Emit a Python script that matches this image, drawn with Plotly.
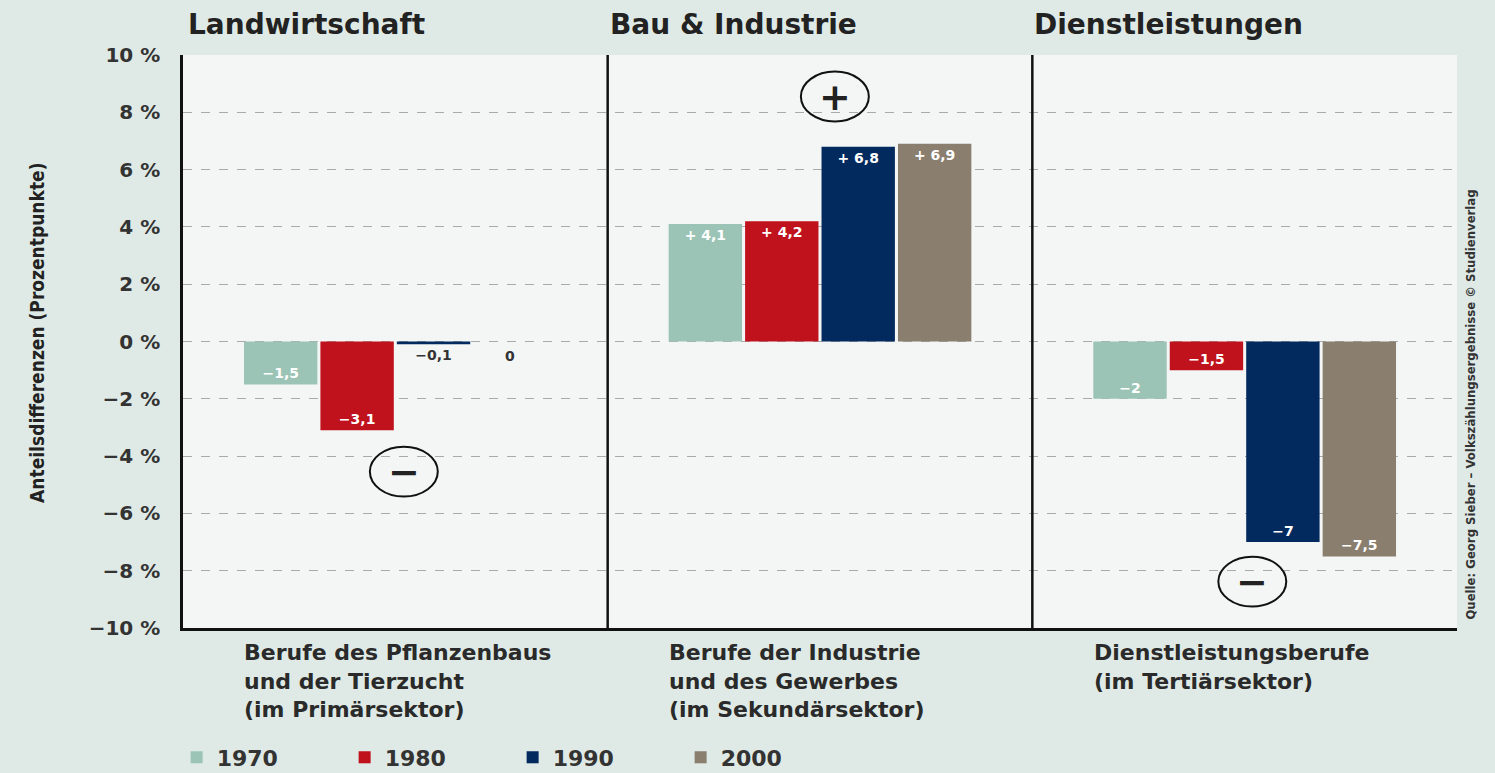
import plotly.graph_objects as go

# ---- data ----
sectors = ["Landwirtschaft", "Bau & Industrie", "Dienstleistungen"]
category_labels = [
    "Berufe des Pflanzenbaus<br>und der Tierzucht<br>(im Primärsektor)",
    "Berufe der Industrie<br>und des Gewerbes<br>(im Sekundärsektor)",
    "Dienstleistungsberufe<br>(im Tertiärsektor)",
]
years = ["1970", "1980", "1990", "2000"]
values_1970 = [-1.5, 4.1, -2.0]
values_1980 = [-3.1, 4.2, -1.0]
values_1990 = [-0.1, 6.8, -7.0]
values_2000 = [0.0, 6.9, -7.5]
labels_1970 = ["−1,5", "+ 4,1", "−2"]
labels_1980 = ["−3,1", "+ 4,2", "−1,5"]
labels_1990 = ["−0,1", "+ 6,8", "−7"]
labels_2000 = ["0", "+ 6,9", "−7,5"]
tick_vals = [10, 8, 6, 4, 2, 0, -2, -4, -6, -8, -10]
tick_text = ["10 %", "8 %", "6 %", "4 %", "2 %", "0 %", "−2 %", "−4 %", "−6 %", "−8 %", "−10 %"]

colors = ["#9cc4b6", "#c0121d", "#022a5e", "#8a7e6f"]
series = [values_1970, values_1980, values_1990, values_2000]
labels = [labels_1970, labels_1980, labels_1990, labels_2000]

BOLD = "DejaVu Sans"
COND = "DejaVu Sans Condensed"
BARGAP = 0.28
NSER = len(years)

fig = go.Figure()
xs = list(range(len(sectors)))
annotations = []
for i, (yr, vals, labs, col) in enumerate(zip(years, series, labels, colors)):
    pos = []
    txt = []
    for j, (v, lab) in enumerate(zip(vals, labs)):
        if v == 0:
            # zero-height bar: put its label just below the zero line
            pos.append("none")
            txt.append("")
            bw = (1 - BARGAP) / NSER
            annotations.append(dict(x=xs[j] - (1 - BARGAP) / 2 + bw * (i + 0.5), y=v,
                                    xref="x", yref="y", text=lab, showarrow=False,
                                    yanchor="top", yshift=-4,
                                    font=dict(size=14, color="#333333", family=BOLD, weight="bold")))
        elif abs(v) < 0.5:
            pos.append("outside")
            txt.append(lab)
        else:
            pos.append("inside")
            txt.append(lab)
    fig.add_trace(go.Bar(
        x=xs, y=vals, name=yr, marker=dict(color=col, line=dict(width=0)),
        text=txt, textposition=pos, insidetextanchor="end",
        insidetextfont=dict(color="white", size=14, family=BOLD, weight="bold"),
        outsidetextfont=dict(color="#333333", size=14, family=BOLD, weight="bold"),
        textangle=0, cliponaxis=False, hoverinfo="skip",
    ))

shapes = []
for sx in [0.5, 1.5]:
    shapes.append(dict(type="line", xref="x", yref="y", x0=sx, x1=sx, y0=-10, y1=10,
                       line=dict(color="#111111", width=2.5), layer="above"))

# +/- circles
circles = [(1.035, 8.55, "+"), (0.02, -4.54, "−"), (2.018, -8.38, "−")]
for cx, cy, sym in circles:
    shapes.append(dict(type="circle", xref="x", yref="y",
                       x0=cx - 0.08, x1=cx + 0.08, y0=cy - 0.87, y1=cy + 0.87,
                       line=dict(color="#111111", width=2), fillcolor="rgba(0,0,0,0)"))
    annotations.append(dict(x=cx, y=cy, xref="x", yref="y", text=sym, showarrow=False,
                            font=dict(size=38, color="#222222", family=BOLD, weight="bold")))

for i, s in enumerate(sectors):
    annotations.append(dict(x=i - 0.5, y=1.053, xref="x", yref="paper", text=s,
                            showarrow=False, xanchor="left", yanchor="middle",
                            xshift=3 if i == 0 else 0,
                            font=dict(size=28, color="#222222", family=BOLD, weight="bold")))
for i, c in enumerate(category_labels):
    annotations.append(dict(x=i - (1 - BARGAP) / 2, y=-0.018, xref="x", yref="paper", text=c,
                            showarrow=False, xanchor="left", yanchor="top", align="left",
                            font=dict(size=22, color="#2a2a2a", family=BOLD, weight="bold")))

annotations.append(dict(x=-0.1146, y=0.515, xref="paper", yref="paper", xanchor="center",
                        text="Anteilsdifferenzen (Prozentpunkte)", textangle=-90,
                        showarrow=False,
                        font=dict(size=19, color="#222222", family=COND, weight="bold")))
annotations.append(dict(x=1.0, y=0.389, xref="paper", yref="paper", xshift=23,
                        text="Quelle: Georg Sieber – Volkszählungsergebnisse © Studienverlag",
                        textangle=-90, showarrow=False,
                        font=dict(size=13, color="#333333", family=COND, weight="bold")))

fig.update_layout(
    width=1495, height=773,
    margin=dict(l=183, r=38, t=55, b=145, autoexpand=False),
    paper_bgcolor="#dfeae6", plot_bgcolor="#f3f6f5",
    barmode="group", bargap=BARGAP, bargroupgap=0.04,
    showlegend=True,
    legend=dict(orientation="h", x=-0.005, y=-0.226, xanchor="left", yanchor="middle",
                font=dict(size=22, color="#333333", family=BOLD, weight="bold"),
                entrywidth=123, bgcolor="rgba(0,0,0,0)"),
    shapes=shapes, annotations=annotations,
    xaxis=dict(range=[-0.5, 2.5], showticklabels=False, showgrid=False, zeroline=False,
               showline=True, linecolor="#111111", linewidth=2.5, fixedrange=True),
    yaxis=dict(range=[-10, 10], tickvals=tick_vals, ticktext=tick_text,
               showgrid=True, gridcolor="#aaaaaa", griddash="dash", gridwidth=1,
               zeroline=False, showline=True, linecolor="#111111", linewidth=2.5,
               tickfont=dict(size=20, color="#333333", family=BOLD, weight="bold"),
               ticklabelstandoff=16, ticks=""),
)
fig.write_html("out.html", config={"displayModeBar": False},
               post_script="document.body.style.margin='0';")
